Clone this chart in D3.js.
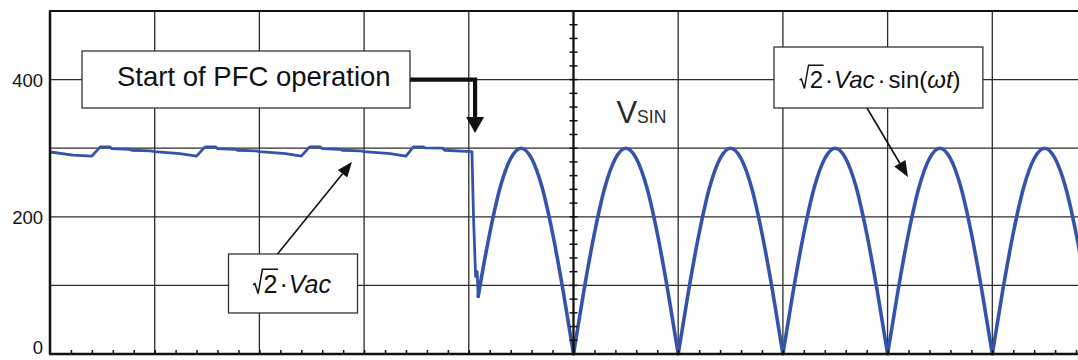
<!DOCTYPE html>
<html><head><meta charset="utf-8">
<script src="https://cdn.jsdelivr.net/npm/d3@7"></script>
<style>
html,body{margin:0;padding:0;background:#fff;}
svg{display:block;font-family:"Liberation Sans",Arial,Helvetica,sans-serif;}
</style></head><body>
<svg id="chart" width="1078" height="360"></svg>
<script>
// ---------------- data (time in ms, voltage in V) ----------------
const yTickLabels = [0, 200, 400];
const yGridValues = [100, 200, 300, 400];
const xGridValues = [-40, -30, -20, -10, 0, 10, 20, 30, 40];

// rectified bulk voltage before PFC starts (ripple) and the drop
const preTime = [-50, -47.8, -46.0, -45.2, -44.3, -44.1, -42.4, -42.2, -40.4, -40, -37.6, -36.0,
  -35.2, -34.2, -34.0, -32.3, -32.1, -30.3, -30, -27.5, -26.0,
  -25.2, -24.2, -24.0, -22.3, -22.1, -20.3, -20, -17.5, -16.0,
  -15.3, -14.4, -14.2, -12.5, -12.3, -10.2, -9.7, -9.55, -9.35, -9.2, -9.1];
const preVolt = [294.5, 290, 288.5, 302, 302, 299.5, 298.5, 297, 296, 295, 292, 288.5,
  302, 302, 299.5, 298.5, 297, 296, 295, 292, 288.5,
  302, 302, 299.5, 298.5, 297, 296, 295, 292, 288.5,
  302, 302, 300.5, 300, 297, 295.5, 295, 200, 113, 120, 84];

// rectified sine after PFC start
const sinTime = [-9.1, -9, -8, -7, -6, -5, -4, -3, -2, -1, 0,
  1, 2, 3, 4, 5, 6, 7, 8, 9, 10,
  11, 12, 13, 14, 15, 16, 17, 18, 19, 20,
  21, 22, 23, 24, 25, 26, 27, 28, 29, 30,
  31, 32, 33, 34, 35, 36, 37, 38, 39, 40,
  41, 42, 43, 44, 45, 46, 47, 48, 49, 50];
const sinVolt = [84, 93, 176, 243, 285, 300, 285, 243, 176, 93, 0,
  93, 176, 243, 285, 300, 285, 243, 176, 93, 0,
  93, 176, 243, 285, 300, 285, 243, 176, 93, 0,
  93, 176, 243, 285, 300, 285, 243, 176, 93, 0,
  93, 176, 243, 285, 300, 285, 243, 176, 93, 0,
  93, 176, 243, 285, 300, 285, 243, 176, 93, 0];

// annotation anchors (data units)
const pfcBox = {t0: -46.94, t1: -15.62, v0: 358.6, v1: 441.7, tx: -43.6, ty: 391, text: "Start of PFC operation"};
const pfcArrow = [[-15.62, 400], [-9.4, 400], [-9.4, 344]];
const pfcArrowTip = [-9.4, 322];
const vsinLabel = {t: 4.1, v: 336.7, main: "V", sub: "SIN"};
const sinBox = {t0: 19.15, t1: 39.1, v0: 358.6, v1: 447.5, tx: 21.6, ty: 387.8};
const sinArrow = [[28.03, 358.6], [31.95, 258]];
const vacBox = {t0: -32.95, t1: -20.63, v0: 59.8, v1: 145.8, tx: -30.6, ty: 88.9};
const vacArrow = [[-28.27, 145.8], [-21.16, 279.9]];

// ---------------- layout ----------------
const W = 1078, H = 360;
const svg = d3.select("#chart");
const x = d3.scaleLinear().domain([-50, 50]).range([50, 1097]);
const y = d3.scaleLinear().domain([0, 500]).range([354, 11]);
const pLeft = 50, pRight = W, pTop = y(500), pBottom = y(0);
const ink = "#111";
const gridCol = "#2b2b2b";
const blue = "#3454ab";

// grid
const grid = svg.append("g");
grid.selectAll("line.h").data(yGridValues).join("line")
  .attr("x1", pLeft).attr("x2", pRight).attr("y1", d => y(d)).attr("y2", d => y(d))
  .attr("stroke", gridCol).attr("stroke-width", 1.3);
grid.selectAll("line.v").data(xGridValues.filter(d => d !== 0)).join("line")
  .attr("x1", d => x(d)).attr("x2", d => x(d)).attr("y1", pTop).attr("y2", pBottom)
  .attr("stroke", gridCol).attr("stroke-width", 1.3);

// clip
svg.append("clipPath").attr("id", "plotClip").append("rect")
  .attr("x", pLeft).attr("y", pTop).attr("width", pRight - pLeft).attr("height", pBottom - pTop + 1.5);

// waveform
const wave = svg.append("g").attr("clip-path", "url(#plotClip)");
const prePts = preTime.map((t, i) => [t, preVolt[i]]);
wave.append("path").datum(prePts)
  .attr("d", d3.line().x(d => x(d[0])).y(d => y(d[1])))
  .attr("fill", "none").attr("stroke", blue).attr("stroke-width", 2.8)
  .attr("stroke-linejoin", "round").attr("stroke-linecap", "round");

const segs = [];
let cur = [];
sinTime.forEach((t, i) => {
  cur.push([t, sinVolt[i]]);
  if (sinVolt[i] === 0 && cur.length > 1) { segs.push(cur); cur = [[t, 0]]; }
});
if (cur.length > 1) segs.push(cur);
const sinLine = d3.line().x(d => x(d[0])).y(d => y(d[1])).curve(d3.curveMonotoneX);
wave.selectAll("path.sin").data(segs).join("path").attr("class", "sin")
  .attr("d", sinLine)
  .attr("fill", "none").attr("stroke", blue).attr("stroke-width", 3.6)
  .attr("stroke-linejoin", "round").attr("stroke-linecap", "round");

// frame / axes
const frame = svg.append("g");
frame.append("line").attr("x1", pLeft - 1).attr("x2", pRight).attr("y1", pTop).attr("y2", pTop)
  .attr("stroke", ink).attr("stroke-width", 2);
frame.append("line").attr("x1", pLeft).attr("x2", pLeft).attr("y1", pTop).attr("y2", pBottom)
  .attr("stroke", ink).attr("stroke-width", 2.5);

// bottom axis with minor ticks
const xMinor = d3.range(-48, 50, 2);
const xAxis = d3.axisBottom(x).tickValues(xMinor).tickSize(-4).tickFormat("");
const gx = svg.append("g").attr("transform", `translate(0,${pBottom})`).call(xAxis);
gx.select(".domain").remove();
gx.selectAll(".tick line").attr("stroke", ink).attr("stroke-width", 1.5);
frame.append("line").attr("x1", pLeft - 1).attr("x2", pRight).attr("y1", pBottom).attr("y2", pBottom)
  .attr("stroke", ink).attr("stroke-width", 2.5);

// center axis
const yMinor = d3.range(20, 500, 20);
const cax = svg.append("g");
cax.append("line").attr("x1", x(0)).attr("x2", x(0)).attr("y1", pTop).attr("y2", pBottom)
  .attr("stroke", ink).attr("stroke-width", 2.3);
cax.selectAll("line.t").data(yMinor).join("line")
  .attr("x1", x(0) - 4).attr("x2", x(0) + 4).attr("y1", d => y(d)).attr("y2", d => y(d))
  .attr("stroke", ink).attr("stroke-width", 1.5);

// y labels
const yAxis = d3.axisLeft(y).tickValues(yTickLabels).tickSize(0).tickPadding(7);
const gy = svg.append("g").attr("transform", `translate(${pLeft},0)`).call(yAxis);
gy.select(".domain").remove();
gy.selectAll(".tick text").attr("font-size", 18.5).attr("fill", ink)
  .attr("font-family", '"Liberation Sans",Arial,sans-serif')
  .attr("dy", d => d === 0 ? "-0.05em" : "0.36em");

// ---------------- annotations ----------------
const ann = svg.append("g");
function box(b) {
  ann.append("rect").attr("x", x(b.t0)).attr("y", y(b.v1))
    .attr("width", x(b.t1) - x(b.t0)).attr("height", y(b.v0) - y(b.v1))
    .attr("fill", "#fff").attr("stroke", "#333").attr("stroke-width", 1.3);
}
function arrow(pts, tip, width, headLen, headHalf) {
  const p = pts.map(d => [x(d[0]), y(d[1])]);
  const tp = [x(tip[0]), y(tip[1])];
  const last = p[p.length - 1];
  const dx = tp[0] - last[0], dy = tp[1] - last[1];
  const L = Math.hypot(dx, dy);
  const ux = dx / L, uy = dy / L;
  const base = [tp[0] - ux * headLen, tp[1] - uy * headLen];
  const all = p.concat([base]);
  ann.append("path").attr("d", d3.line()(all)).attr("fill", "none")
    .attr("stroke", ink).attr("stroke-width", width).attr("stroke-linejoin", "miter");
  ann.append("path").attr("d", d3.line()([tp,
      [base[0] - uy * headHalf, base[1] + ux * headHalf],
      [base[0] + uy * headHalf, base[1] - ux * headHalf]]) + "Z")
    .attr("fill", ink);
}
function mathText(px, py, size, parts) {
  const g = ann.append("g");
  const r0 = px;
  const txt = g.append("text").attr("x", r0 + 0.42 * size).attr("y", py)
    .attr("font-size", size).attr("fill", ink);
  const spans = parts.map(p => {
    const s = txt.append("tspan").text(p.t);
    if (p.it) s.attr("font-style", "italic");
    if (p.dx) s.attr("dx", p.dx);
    if (p.ls) s.attr("letter-spacing", p.ls);
    if (p.font) s.attr("font-family", p.font);
    return s;
  });
  const w2 = spans[0].node().getComputedTextLength();
  const topY = py - 0.95 * size;
  const rad = [[r0, py - 0.33 * size], [r0 + 0.07 * size, py - 0.38 * size],
    [r0 + 0.2 * size, py + 0.02 * size], [r0 + 0.37 * size, topY],
    [r0 + 0.42 * size + w2 + 0.02 * size, topY]];
  g.append("path").attr("d", d3.line()(rad)).attr("fill", "none")
    .attr("stroke", ink).attr("stroke-width", Math.max(1.3, size * 0.06))
    .attr("stroke-linejoin", "miter");
}

// Start of PFC
box(pfcBox);
ann.append("text").attr("x", x(pfcBox.tx)).attr("y", y(pfcBox.ty))
  .attr("font-size", 27.5).attr("fill", ink).text(pfcBox.text);
arrow(pfcArrow, pfcArrowTip, 4.2, 16, 9);

// V_SIN
const vs = ann.append("text").attr("x", x(vsinLabel.t)).attr("y", y(vsinLabel.v)).attr("fill", "#2a2a2a");
vs.append("tspan").attr("font-size", 31).text(vsinLabel.main);
vs.append("tspan").attr("font-size", 17.5).text(vsinLabel.sub);

// formula box
box(sinBox);
arrow([sinArrow[0]], sinArrow[1], 1.6, 16, 6.5);
mathText(x(sinBox.tx), y(sinBox.ty), 24, [
  {t: "2"}, {t: "·", dx: 2}, {t: "Vac", it: true, dx: 1}, {t: "·", dx: 3},
  {t: "sin(", dx: 3}, {t: "ω", it: true}, {t: "t", it: true}, {t: ")"}
]);

// sqrt2 Vac box
box(vacBox);
arrow([vacArrow[0]], vacArrow[1], 1.6, 15, 6);
mathText(x(vacBox.tx), y(vacBox.ty), 25, [
  {t: "2"}, {t: "·", dx: 2}, {t: "Vac", it: true, dx: 1}
]);
</script>
</body></html>
